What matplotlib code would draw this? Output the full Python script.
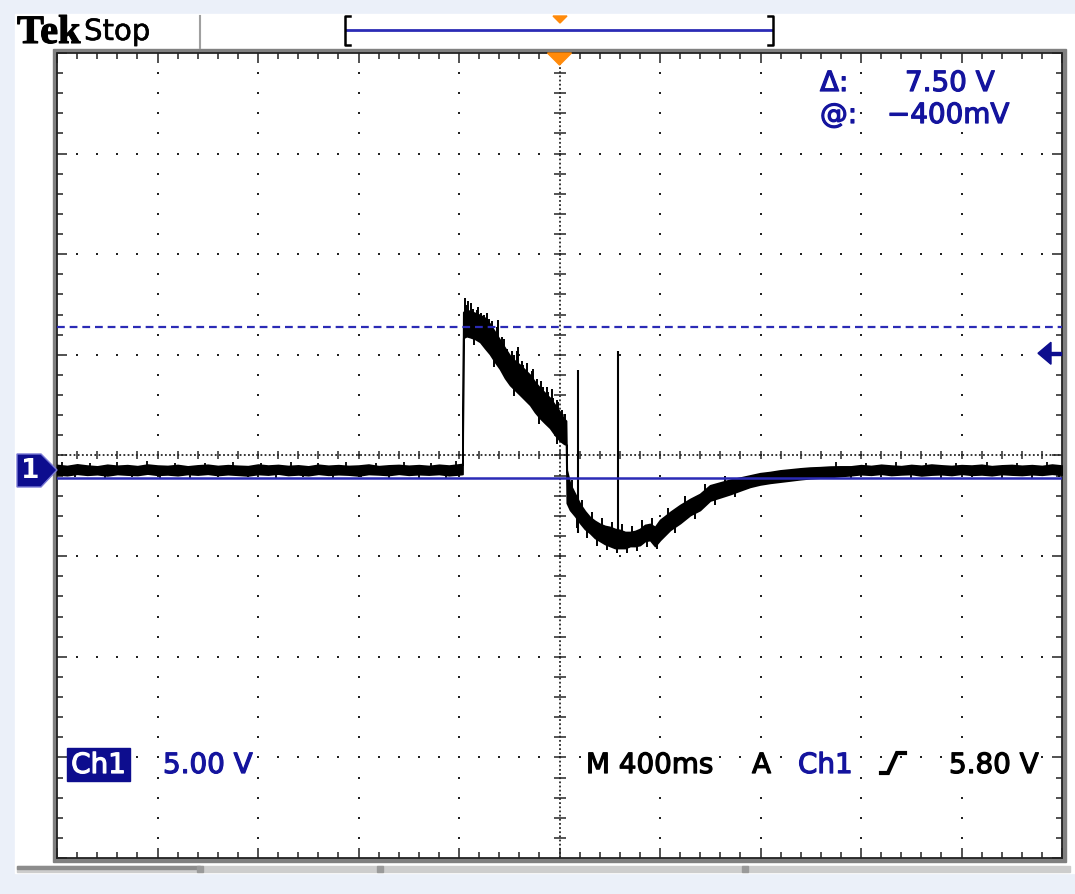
import numpy as np
import matplotlib
matplotlib.use("Agg")
import matplotlib.pyplot as plt
import matplotlib.patheffects as pe
from matplotlib.patches import Rectangle, Polygon

# ---------------- scope settings ----------------
volts_per_div = 5.0
secs_per_div = 0.4
ground_offset_div = 0.144      # channel ground sits a little below graticule centre
trigger_level = 5.80           # V
cursor_at = -0.400             # V  (solid cursor)
cursor_delta = 7.50            # V  (dashed cursor relative to solid one)

# ---------------- Ch1 trace envelope (time s, max V, min V) ----------------
trace_t = [-2.00, -1.96, -1.92, -1.88, -1.84, -1.80, -1.76, -1.72, -1.68, -1.64,
           -1.60, -1.56, -1.52, -1.48, -1.44, -1.40, -1.36, -1.32, -1.28, -1.24,
           -1.20, -1.16, -1.12, -1.08, -1.04, -1.00, -0.96, -0.92, -0.88, -0.84,
           -0.80, -0.76, -0.72, -0.68, -0.64, -0.60, -0.56, -0.52, -0.48, -0.44,
           -0.40, -0.386,
           -0.383, -0.370, -0.356, -0.336, -0.316, -0.297, -0.277, -0.257, -0.237,
           -0.217, -0.197, -0.177, -0.157, -0.137, -0.117, -0.098, -0.078, -0.058,
           -0.038, -0.018, 0.002, 0.018, 0.026,
           0.029, 0.042, 0.062, 0.082, 0.101, 0.121, 0.141, 0.161, 0.181, 0.201,
           0.221, 0.241, 0.261, 0.281, 0.301, 0.320, 0.340, 0.360, 0.380, 0.400,
           0.420, 0.440, 0.480, 0.520, 0.559, 0.599, 0.639, 0.679, 0.718, 0.758,
           0.798, 0.838, 0.878, 0.918, 0.957, 0.997, 1.037, 1.077, 1.117,
           1.16, 1.20, 1.24, 1.28, 1.32, 1.36, 1.40, 1.44, 1.48, 1.52, 1.56,
           1.60, 1.64, 1.68, 1.72, 1.76, 1.80, 1.84, 1.88, 1.92, 1.96, 2.00]
trace_hi = [0.25, 0.20, 0.28, 0.22, 0.18, 0.26, 0.21, 0.24, 0.19, 0.27,
            0.22, 0.20, 0.25, 0.18, 0.23, 0.26, 0.20, 0.24, 0.21, 0.19,
            0.27, 0.22, 0.25, 0.20, 0.23, 0.18, 0.26, 0.21, 0.24, 0.20,
            0.22, 0.27, 0.19, 0.23, 0.25, 0.21, 0.24, 0.20, 0.26, 0.22,
            0.28, 0.30,
            7.85, 7.95, 7.90, 7.80, 7.70, 7.56, 7.26, 6.86, 6.46,
            6.06, 5.67, 5.42, 5.22, 4.97, 4.72, 4.38, 4.08, 3.83,
            3.58, 3.23, 2.88, 2.54, 2.45,
            0.00, -0.69, -1.19, -1.69, -2.04, -2.34, -2.53, -2.68, -2.78, -2.83,
            -2.93, -2.98, -3.08, -3.08, -3.03, -2.93, -2.73, -2.68, -2.83, -2.48,
            -2.29, -2.09, -1.74, -1.44, -1.19, -0.76, -0.62, -0.48, -0.38, -0.27,
            -0.16, -0.10, -0.02, 0.03, 0.08, 0.12, 0.14, 0.17, 0.18,
            0.18, 0.24, 0.20, 0.26, 0.22, 0.19, 0.25, 0.21, 0.27, 0.23, 0.20,
            0.24, 0.22, 0.26, 0.19, 0.23, 0.25, 0.21, 0.24, 0.20, 0.27, 0.22]
trace_lo = [-0.22, -0.26, -0.19, -0.24, -0.21, -0.27, -0.20, -0.23, -0.25, -0.18,
            -0.24, -0.22, -0.26, -0.20, -0.23, -0.19, -0.25, -0.21, -0.24, -0.27,
            -0.20, -0.23, -0.18, -0.25, -0.22, -0.26, -0.19, -0.24, -0.21, -0.23,
            -0.27, -0.20, -0.22, -0.25, -0.19, -0.24, -0.21, -0.23, -0.20, -0.26,
            -0.22, -0.20,
            6.56, 6.65, 6.60, 6.51, 6.36, 6.06, 5.76, 5.37, 5.02,
            4.57, 4.22, 3.97, 3.73, 3.48, 3.23, 2.88, 2.58, 2.33,
            2.09, 1.74, 1.45, 1.30, 1.26,
            -1.64, -1.99, -2.29, -2.64, -2.93, -3.13, -3.38, -3.53, -3.68, -3.78,
            -3.88, -3.88, -3.88, -3.78, -3.78, -3.73, -3.53, -3.48, -3.78, -3.48,
            -3.23, -2.98, -2.64, -2.24, -1.99, -1.52, -1.36, -1.20, -1.02, -0.84,
            -0.72, -0.64, -0.58, -0.52, -0.46, -0.41, -0.38, -0.35, -0.30,
            -0.26, -0.21, -0.24, -0.19, -0.25, -0.22, -0.20, -0.27, -0.23, -0.21, -0.25,
            -0.19, -0.24, -0.22, -0.26, -0.20, -0.23, -0.25, -0.21, -0.24, -0.19, -0.23]

# narrow glitches after the falling edge
glitch_t = [0.074, 0.233]
glitch_hi = [4.97, 5.91]
glitch_lo = [-3.13, -3.73]

# baseline noise spikes, measured from 0 V
base_spike_t = [-1.98, -1.93, -1.87, -1.81, -1.76, -1.70, -1.64, -1.59, -1.53, -1.47,
                -1.41, -1.36, -1.30, -1.24, -1.19, -1.13, -1.07, -1.02, -0.96, -0.90,
                -0.85, -0.79, -0.73, -0.68, -0.62, -0.56, -0.51, -0.45, -0.41,
                1.10, 1.16, 1.22, 1.28, 1.34, 1.40, 1.46, 1.52, 1.58, 1.64,
                1.70, 1.76, 1.82, 1.88, 1.94, 1.99]
base_spike_v = [0.40, -0.36, 0.34, -0.42, 0.38, -0.33, 0.43, -0.38, 0.35, -0.40,
                0.37, -0.35, 0.41, -0.37, 0.33, -0.43, 0.39, -0.34, 0.36, -0.41,
                0.42, -0.36, 0.34, -0.39, 0.40, -0.38, 0.35, -0.42, 0.44,
                0.38, -0.40, 0.35, -0.36, 0.42, -0.38, 0.34, -0.41, 0.37, -0.35,
                0.40, -0.39, 0.36, -0.42, 0.39, -0.37]

# noise spikes on the pulse and the undershoot (time, start V, end V)
spike_t = [-0.376, -0.372, -0.364, -0.352, -0.344, -0.330, -0.326, -0.312, -0.300,
           -0.290, -0.282, -0.268, -0.250, -0.245, -0.230, -0.222, -0.210, -0.190,
           -0.182, -0.170, -0.164, -0.150, -0.144, -0.130, -0.110, -0.104, -0.090,
           -0.072, -0.064, -0.050, -0.044, -0.030, -0.024, -0.010, -0.004, 0.010,
           0.020,
           -0.340, -0.260, -0.180, -0.080, -0.010,
           0.050, 0.090, 0.130, 0.170, 0.210, 0.250, 0.290, 0.330, 0.370, 0.430,
           0.500, 0.580, 0.660,
           0.070, 0.110, 0.150, 0.190, 0.230, 0.269, 0.310, 0.350, 0.390, 0.460,
           0.540, 0.620, 0.700]
spike_from = [7.40, 7.40, 7.40, 7.40, 7.30, 7.30, 7.20, 7.10, 7.00,
              6.90, 6.80, 6.50, 6.20, 6.10, 5.80, 5.60, 5.40, 5.00,
              4.90, 4.80, 4.80, 4.60, 4.50, 4.30, 4.00, 3.90, 3.70,
              3.50, 3.40, 3.20, 3.10, 2.90, 2.80, 2.50, 2.40, 2.20,
              2.00,
              6.90, 5.90, 4.50, 3.10, 2.10,
              -1.30, -2.20, -2.80, -3.10, -3.30, -3.40, -3.40, -3.20, -3.10, -2.60,
              -2.00, -1.30, -0.90,
              -2.00, -2.60, -3.00, -3.30, -3.40, -3.40, -3.30, -3.10, -3.20, -2.40,
              -1.70, -1.10, -0.80]
spike_to = [8.55, 8.20, 8.40, 8.30, 8.00, 7.95, 8.10, 7.80, 7.70,
            7.80, 7.50, 7.40, 7.10, 7.45, 6.60, 6.50, 6.00, 5.90,
            5.70, 5.90, 6.11, 5.40, 5.20, 5.30, 4.90, 5.00, 4.50,
            4.40, 4.10, 4.10, 3.90, 4.00, 3.60, 3.50, 3.40, 3.00,
            2.80,
            6.20, 5.10, 3.70, 2.30, 1.30,
            -0.50, -1.50, -2.10, -2.40, -2.60, -2.70, -2.80, -2.50, -2.40, -1.90,
            -1.30, -0.70, -0.30,
            -2.90, -3.40, -3.80, -4.00, -4.12, -4.12, -4.05, -3.85, -3.95, -3.15,
            -2.45, -1.75, -1.35]

# ---------------- figure geometry (pixels) ----------------
W, H = 1075, 894
PL, PR, PT, PB = 57, 1062, 53, 858
BLUE_TXT = "#14149e"
BLUE_LINE = "#2b2bb6"
NAVY = "#0d0d8e"
ORANGE = "#ff8a0a"

fig = plt.figure(figsize=(W / 100, H / 100), dpi=100)


def fig_rect(l, t, r, b):
    return [l / W, 1 - b / H, (r - l) / W, (b - t) / H]


# background / header layer
bg = fig.add_axes([0, 0, 1, 1], zorder=0)
bg.set_xlim(0, W)
bg.set_ylim(H, 0)
bg.axis("off")
bg.add_patch(Rectangle((0, 0), W, H, color="#ebf0f9"))
bg.add_patch(Rectangle((15, 14), W - 15, 873 - 14, color="white"))
bg.add_patch(Rectangle((PL - 4, PT - 4), PR - PL + 8, PB - PT + 8, color="#808080"))
# scroll bar under the screen
bg.add_patch(Rectangle((17, 866), 1053, 6, color="#cdcdcd"))
bg.add_patch(Rectangle((17, 866), 183, 3, color="#8c8c8c"))
for xp in (200, 380, 745):
    bg.add_patch(Rectangle((xp - 3, 866), 6, 6, color="#9a9a9a"))

bold_fx = [pe.withStroke(linewidth=0.9, foreground="black")]
bg.text(17, 43, "Tek", fontfamily="Liberation Serif", fontweight="bold",
        fontsize=29, va="baseline", color="black",
        path_effects=[pe.withStroke(linewidth=0.8, foreground="black")])
bg.text(84, 40, "Stop", fontfamily="DejaVu Sans", fontsize=21, va="baseline",
        color="black", path_effects=[pe.withStroke(linewidth=0.4, foreground="black")])
bg.plot([200, 200], [16, 48], color="#a0a0a0", lw=1.5)
# record-length indicator
bg.plot([346, 772], [30, 30], color=BLUE_LINE, lw=2)
bg.plot([350, 345, 345, 350], [16, 16, 45, 45], color="black", lw=1.8)
bg.plot([768, 773, 773, 768], [16, 16, 45, 45], color="black", lw=1.8)
bg.add_patch(Polygon([(553, 16), (567, 16), (560, 23)], color=ORANGE))

# ---------------- graticule ----------------
g = fig.add_axes(fig_rect(PL, PT, PR, PB), zorder=1)
g.set_xlim(0, 10)
g.set_ylim(0, 8)
g.set_facecolor("white")
g.set_xticks(np.arange(0, 11))
g.set_yticks(np.arange(0, 9))
g.set_xticks(np.arange(0, 10.01, 0.2), minor=True)
g.set_yticks(np.arange(0, 8.01, 0.2), minor=True)
g.tick_params(which="both", direction="in", top=True, right=True,
              labelbottom=False, labelleft=False, color="#222222", width=1.1)
g.tick_params(which="major", length=7)
g.tick_params(which="minor", length=4)
for sp in g.spines.values():
    sp.set_color("#222222")
    sp.set_linewidth(1.3)
    sp.set_linestyle((0, (1, 1)))

sub_x = np.arange(0.2, 10, 0.2)
sub_y = np.arange(0.2, 8, 0.2)
dx, dy = [], []
for i in range(1, 10):
    if i != 5:
        dx.extend([i] * len(sub_y))
        dy.extend(sub_y)
for j in range(1, 8):
    if j != 4:
        dx.extend(sub_x)
        dy.extend([j] * len(sub_x))
g.scatter(dx, dy, s=3.8, marker="s", color="#222222", linewidths=0)

dense = (0, (1, 1.3))
g.plot([0, 10], [4, 4], ls=dense, lw=1.3, color="#262626")
g.plot([5, 5], [0, 8], ls=dense, lw=1.3, color="#262626")
g.plot(sub_x, [4] * len(sub_x), ls="none", marker="|", ms=6, mew=1.1, color="#262626")
g.plot([5] * len(sub_y), sub_y, ls="none", marker="_", ms=8, mew=1.1, color="#262626")

# ---------------- waveform ----------------
centre_v = ground_offset_div * volts_per_div
y_lo, y_hi = centre_v - 4 * volts_per_div, centre_v + 4 * volts_per_div
x_lo, x_hi = -5 * secs_per_div, 5 * secs_per_div

ax = fig.add_axes(fig_rect(PL, PT, PR, PB), zorder=2)
ax.set_xlim(x_lo, x_hi)
ax.set_ylim(y_lo, y_hi)
ax.set_facecolor("none")
ax.axis("off")

ax.fill_between(trace_t, trace_lo, trace_hi, facecolor="black",
                edgecolor="black", lw=1.2)
ax.vlines(base_spike_t, 0, base_spike_v, color="black", lw=1.3)
ax.vlines(spike_t, spike_from, spike_to, color="black", lw=1.4)
ax.vlines(glitch_t, glitch_lo, glitch_hi, color="black", lw=1.5)

ax.axhline(cursor_at, color=BLUE_LINE, lw=1.8)
ax.axhline(cursor_at + cursor_delta, color=BLUE_LINE, lw=1.6, ls=(0, (3.5, 2.2)))

# ---------------- overlay: markers and readouts ----------------
ov = fig.add_axes([0, 0, 1, 1], zorder=3)
ov.set_xlim(0, W)
ov.set_ylim(H, 0)
ov.axis("off")
ov.set_facecolor("none")


def volt_to_px(v):
    return PT + (y_hi - v) / (y_hi - y_lo) * (PB - PT)


def time_to_px(t):
    return PL + (t - x_lo) / (x_hi - x_lo) * (PR - PL)


gy = volt_to_px(0.0)
ov.add_patch(Polygon([(17, gy - 16), (41, gy - 16), (57, gy), (41, gy + 17), (17, gy + 17)],
                     facecolor=NAVY, edgecolor="#7a7ad6", lw=1))
ov.text(30, gy + 1, "1", color="white", fontsize=19, fontweight="bold",
        ha="center", va="center", fontfamily="DejaVu Sans")

ty = volt_to_px(trigger_level)
ov.add_patch(Polygon([(1038, ty), (1051, ty - 11), (1051, ty + 11)], color=NAVY))
ov.add_patch(Rectangle((1050, ty - 1.6), 11, 3.2, color=NAVY))

tx = time_to_px(0.0)
ov.add_patch(Polygon([(tx - 12, PT), (tx + 12, PT), (tx, PT + 12)], color=ORANGE))

box = dict(facecolor="white", edgecolor="none", pad=1)
fs = 20
blue_fx = [pe.withStroke(linewidth=0.9, foreground=BLUE_TXT)]
white_fx = [pe.withStroke(linewidth=0.9, foreground="white")]


def readout(x, y, s, color):
    fx = blue_fx if color == BLUE_TXT else bold_fx
    ov.text(x, y, s, color=color, fontsize=fs, va="baseline", bbox=box,
            fontfamily="DejaVu Sans", path_effects=fx)


readout(820, 91, "\u0394:", BLUE_TXT)
readout(905, 91, f"{cursor_delta:.2f} V", BLUE_TXT)
readout(820, 123, "@:", BLUE_TXT)
readout(887, 123, f"\u2212{abs(cursor_at) * 1000:.0f}mV", BLUE_TXT)

ov.add_patch(Rectangle((67, 748), 63, 33, color=NAVY))
ov.text(98.5, 773, "Ch1", color="white", fontsize=fs, ha="center", va="baseline",
        fontfamily="DejaVu Sans", path_effects=white_fx)
readout(163, 773, f"{volts_per_div:.2f} V", BLUE_TXT)
readout(586, 773, f"M {secs_per_div * 1000:.0f}ms", "black")
readout(752, 773, "A", "black")
readout(798, 773, "Ch1", BLUE_TXT)
ov.plot([881, 888, 897, 905], [773, 773, 753, 753], color="black", lw=3,
        solid_joinstyle="miter")
readout(949, 773, f"{trigger_level:.2f} V", "black")

fig.savefig("out.png", dpi=100)
